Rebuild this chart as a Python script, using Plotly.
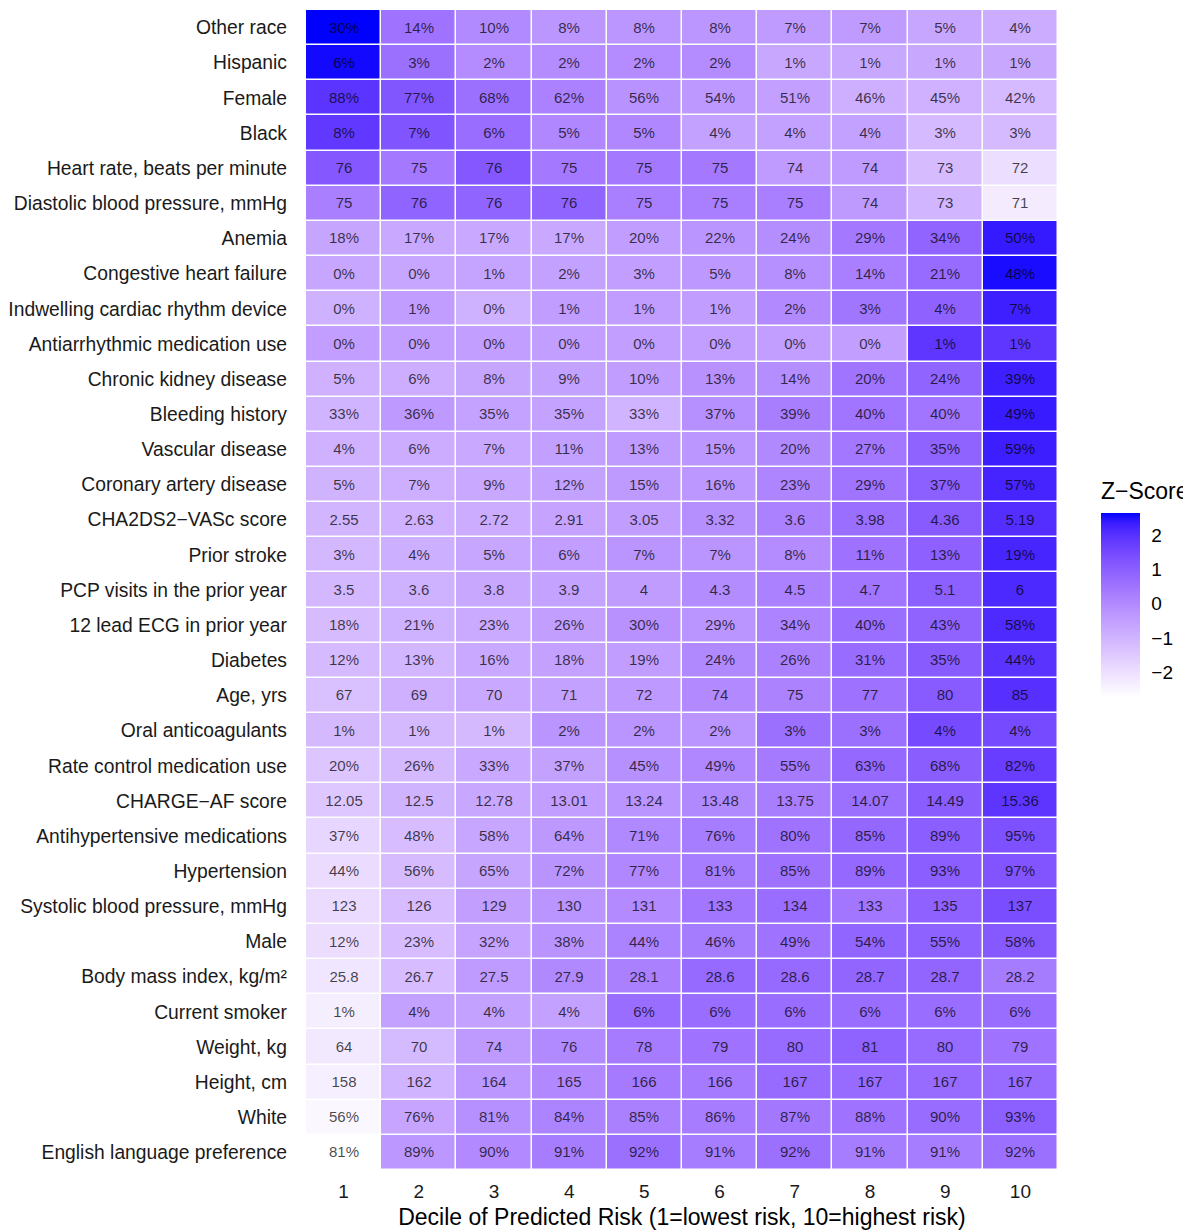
import numpy as np
import plotly.graph_objects as go

rows = [
    "Other race", "Hispanic", "Female", "Black", "Heart rate, beats per minute",
    "Diastolic blood pressure, mmHg", "Anemia", "Congestive heart failure",
    "Indwelling cardiac rhythm device", "Antiarrhythmic medication use",
    "Chronic kidney disease", "Bleeding history", "Vascular disease",
    "Coronary artery disease", "CHA2DS2\u2212VASc score", "Prior stroke",
    "PCP visits in the prior year", "12 lead ECG in prior year", "Diabetes",
    "Age, yrs", "Oral anticoagulants", "Rate control medication use",
    "CHARGE\u2212AF score", "Antihypertensive medications", "Hypertension",
    "Systolic blood pressure, mmHg", "Male", "Body mass index, kg/m\u00b2",
    "Current smoker", "Weight, kg", "Height, cm", "White",
    "English language preference",
]
deciles = [1, 2, 3, 4, 5, 6, 7, 8, 9, 10]

other_race = [30, 14, 10, 8, 8, 8, 7, 7, 5, 4]
hispanic = [6, 3, 2, 2, 2, 2, 1, 1, 1, 1]
female = [88, 77, 68, 62, 56, 54, 51, 46, 45, 42]
black = [8, 7, 6, 5, 5, 4, 4, 4, 3, 3]
heart_rate = [76, 75, 76, 75, 75, 75, 74, 74, 73, 72]
diastolic = [75, 76, 76, 76, 75, 75, 75, 74, 73, 71]
anemia = [18, 17, 17, 17, 20, 22, 24, 29, 34, 50]
chf = [0, 0, 1, 2, 3, 5, 8, 14, 21, 48]
device = [0, 1, 0, 1, 1, 1, 2, 3, 4, 7]
antiarrhythmic = [0, 0, 0, 0, 0, 0, 0, 0, 1, 1]
ckd = [5, 6, 8, 9, 10, 13, 14, 20, 24, 39]
bleeding = [33, 36, 35, 35, 33, 37, 39, 40, 40, 49]
vascular = [4, 6, 7, 11, 13, 15, 20, 27, 35, 59]
cad = [5, 7, 9, 12, 15, 16, 23, 29, 37, 57]
cha2ds2 = [2.55, 2.63, 2.72, 2.91, 3.05, 3.32, 3.6, 3.98, 4.36, 5.19]
stroke = [3, 4, 5, 6, 7, 7, 8, 11, 13, 19]
pcp = [3.5, 3.6, 3.8, 3.9, 4, 4.3, 4.5, 4.7, 5.1, 6]
ecg = [18, 21, 23, 26, 30, 29, 34, 40, 43, 58]
diabetes = [12, 13, 16, 18, 19, 24, 26, 31, 35, 44]
age = [67, 69, 70, 71, 72, 74, 75, 77, 80, 85]
oac = [1, 1, 1, 2, 2, 2, 3, 3, 4, 4]
rate_control = [20, 26, 33, 37, 45, 49, 55, 63, 68, 82]
charge_af = [12.05, 12.5, 12.78, 13.01, 13.24, 13.48, 13.75, 14.07, 14.49, 15.36]
antihyp = [37, 48, 58, 64, 71, 76, 80, 85, 89, 95]
hypertension = [44, 56, 65, 72, 77, 81, 85, 89, 93, 97]
systolic = [123, 126, 129, 130, 131, 133, 134, 133, 135, 137]
male = [12, 23, 32, 38, 44, 46, 49, 54, 55, 58]
bmi = [25.8, 26.7, 27.5, 27.9, 28.1, 28.6, 28.6, 28.7, 28.7, 28.2]
smoker = [1, 4, 4, 4, 6, 6, 6, 6, 6, 6]
weight = [64, 70, 74, 76, 78, 79, 80, 81, 80, 79]
height = [158, 162, 164, 165, 166, 166, 167, 167, 167, 167]
white = [56, 76, 81, 84, 85, 86, 87, 88, 90, 93]
english = [81, 89, 90, 91, 92, 91, 92, 91, 91, 92]

values = [other_race, hispanic, female, black, heart_rate, diastolic, anemia, chf,
          device, antiarrhythmic, ckd, bleeding, vascular, cad, cha2ds2, stroke, pcp,
          ecg, diabetes, age, oac, rate_control, charge_af, antihyp, hypertension,
          systolic, male, bmi, smoker, weight, height, white, english]
is_pct = [True, True, True, True, False, False, True, True, True, True, True, True,
          True, True, False, True, False, True, True, False, True, True, False, True,
          True, False, True, False, True, False, False, True, True]

# z-score per row (standardised across deciles)
arr = np.array(values, dtype=float)
z = (arr - arr.mean(axis=1, keepdims=True)) / arr.std(axis=1, ddof=1, keepdims=True)
text = [[(f"{v:g}%" if p else f"{v:g}") for v in row] for row, p in zip(values, is_pct)]

# white -> blue gradient interpolated in CIELAB (like ggplot2)
def srgb_to_lab(rgb):
    c = np.array(rgb, dtype=float) / 255.0
    c = np.where(c <= 0.04045, c / 12.92, ((c + 0.055) / 1.055) ** 2.4)
    M = np.array([[0.4124564, 0.3575761, 0.1804375],
                  [0.2126729, 0.7151522, 0.0721750],
                  [0.0193339, 0.1191920, 0.9503041]])
    X, Y, Z = M @ c
    Xn, Yn, Zn = 0.95047, 1.0, 1.08883
    def f(t):
        return t ** (1 / 3) if t > 0.008856 else 7.787 * t + 16 / 116
    fx, fy, fz = f(X / Xn), f(Y / Yn), f(Z / Zn)
    return np.array([116 * fy - 16, 500 * (fx - fy), 200 * (fy - fz)])

def lab_to_srgb(lab):
    L, a, b = lab
    fy = (L + 16) / 116
    fx = fy + a / 500
    fz = fy - b / 200
    def finv(t):
        return t ** 3 if t ** 3 > 0.008856 else (t - 16 / 116) / 7.787
    X, Y, Z = 0.95047 * finv(fx), finv(fy), 1.08883 * finv(fz)
    Minv = np.array([[3.2404542, -1.5371385, -0.4985314],
                     [-0.9692660, 1.8760108, 0.0415560],
                     [0.0556434, -0.2040259, 1.0572252]])
    c = Minv @ np.array([X, Y, Z])
    c = np.clip(c, 0, 1)
    c = np.where(c <= 0.0031308, 12.92 * c, 1.055 * c ** (1 / 2.4) - 0.055)
    c = np.clip(np.round(c * 255), 0, 255).astype(int)
    return f"rgb({c[0]},{c[1]},{c[2]})"

lab_lo = srgb_to_lab((255, 255, 255))
lab_hi = srgb_to_lab((0, 0, 255))
n = 21
colorscale = [[i / (n - 1), lab_to_srgb(lab_lo + (lab_hi - lab_lo) * i / (n - 1))] for i in range(n)]

font_family = "Liberation Sans, Arial, Helvetica, sans-serif"

# the page has an 8px body margin, so the figure is drawn smaller and offset
OFF = 8
W, H = 1191 - OFF, 1230 - OFF
ML, MR, MT = 306 - OFF, 133, 10 - OFF
MB = H - (1170 - OFF)
plot_w = W - ML - MR
plot_h = H - MT - MB

def px_x(px):
    return (px - OFF - ML) / plot_w

def px_y(py):
    return (H - MB - (py - OFF)) / plot_h

fig = go.Figure(go.Heatmap(
    z=z, x=deciles, y=rows, text=text, texttemplate="%{text}",
    textfont=dict(size=15, color="rgba(0,0,0,0.72)", family=font_family),
    colorscale=colorscale, zmin=float(z.min()), zmax=float(z.max()),
    xgap=1.5, ygap=1.5, hoverinfo="skip",
    colorbar=dict(
        thickness=39, thicknessmode="pixels", len=184, lenmode="pixels",
        x=px_x(1101), xanchor="left", xpad=0, y=px_y(697), yanchor="bottom", ypad=0,
        outlinewidth=0, tickvals=[-2, -1, 0, 1, 2], ticks="outside", ticklen=8,
        tickcolor="rgba(255,255,255,0)", tickfont=dict(size=19, color="black"),
    ),
))

fig.add_annotation(
    text="Z\u2212Score", xref="paper", yref="paper", x=px_x(1099), y=px_y(491),
    xanchor="left", yanchor="middle", showarrow=False,
    font=dict(size=23, color="black", family=font_family),
)

fig.update_layout(
    width=W, height=H,
    margin=dict(l=ML, r=MR, t=MT, b=MB),
    paper_bgcolor="white", plot_bgcolor="white",
    font=dict(family=font_family, color="black"),
)
fig.update_xaxes(
    tickvals=deciles, ticktext=[str(d) for d in deciles], showgrid=False, zeroline=False,
    ticks="", tickfont=dict(size=19, color="#1a1a1a"), ticklabelstandoff=8,
    automargin=False,
    title=dict(text="Decile of Predicted Risk (1=lowest risk, 10=highest risk)",
               font=dict(size=23, color="black"), standoff=7),
)
fig.update_yaxes(
    autorange="reversed", showgrid=False, zeroline=False, ticks="",
    tickfont=dict(size=19.3, color="#1a1a1a"), ticklabelstandoff=18,
    automargin=False,
)

fig.write_html("out.html")
